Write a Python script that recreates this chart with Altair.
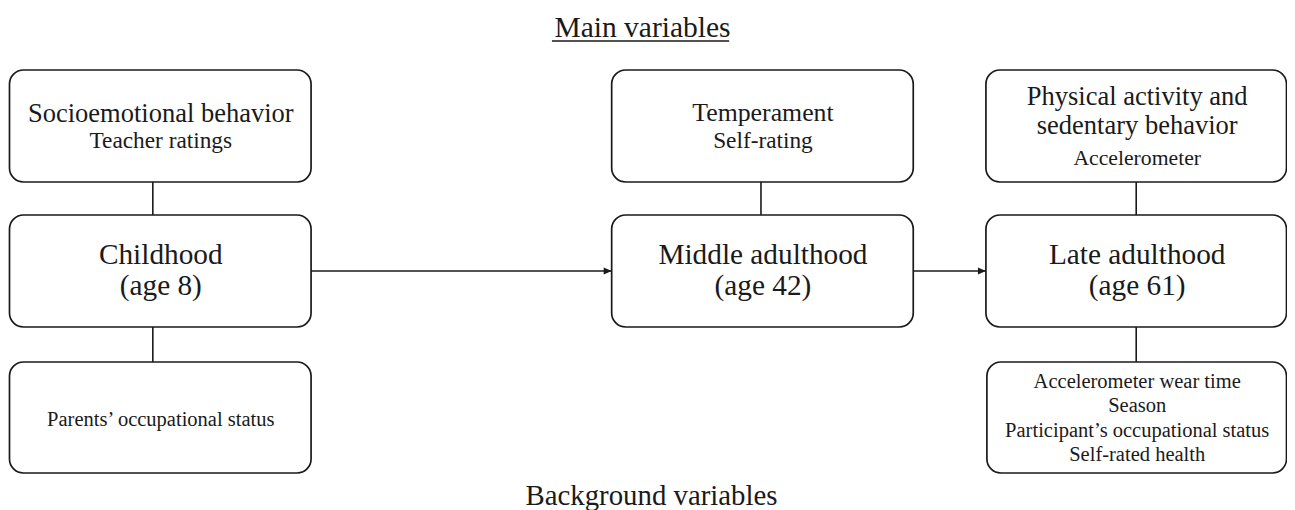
import altair as alt
import pandas as pd

# ---- diagram content ----
box_names = ["Socioemotional", "Childhood", "Parents", "Temperament", "Middle", "Physical", "Late", "LateBackground"]
box_x1 = [10, 10, 10, 615, 615, 991, 991, 992]
box_x2 = [313, 313, 313, 918, 918, 1293, 1293, 1293]
box_y1 = [70, 215, 362, 70, 215, 70, 215, 362]
box_y2 = [182, 327, 473, 182, 327, 182, 327, 473]

# vertical connectors
conn_x = [154, 154, 765, 1142, 1142]
conn_y1 = [182, 327, 182, 182, 327]
conn_y2 = [215, 362, 215, 215, 362]

# arrows between stages
arrow_x1 = [313, 918]
arrow_x2 = [615, 991]
arrow_y = [271, 271]

# section titles
title_text = ["Main variables"]
title_x = [646]
title_y = [37]
bottom_text = ["Background variables"]
bottom_x = [655]
bottom_y = [505]
underline_x1 = [555]
underline_x2 = [733]
underline_y = [41]

# stage labels (large)
stage_text = ["Childhood", "(age 8)", "Middle adulthood", "(age 42)", "Late adulthood", "(age 61)"]
stage_x = [162, 162, 767, 767, 1143, 1143]
stage_y = [264, 295, 264, 295, 264, 295]

# main variable headers
head_text = ["Socioemotional behavior", "Physical activity and", "sedentary behavior"]
head_x = [162, 1143, 1143]
head_y = [122, 105, 134]
head2_text = ["Temperament"]
head2_x = [767]
head2_y = [121]

# measurement labels
meas_text = ["Teacher ratings", "Self-rating"]
meas_x = [162, 767]
meas_y = [148, 148]
meas2_text = ["Accelerometer"]
meas2_x = [1143]
meas2_y = [165]

# background variable labels
bg_text = ["Parents’ occupational status", "Accelerometer wear time", "Season",
           "Participant’s occupational status", "Self-rated health"]
bg_x = [162, 1143, 1143, 1143, 1143]
bg_y = [426, 388, 412, 437, 461]

FONT = "Liberation Serif"
INK = "#1a1a1a"

xs = alt.Scale(domain=[8.5, 1293.5], nice=False, zero=False)
ys = alt.Scale(domain=[8, 510], nice=False, zero=False, reverse=True)

boxes = pd.DataFrame({"name": box_names, "x1": box_x1, "x2": box_x2, "y1": box_y1, "y2": box_y2})
conns = pd.DataFrame({"x": conn_x, "y1": conn_y1, "y2": conn_y2})
arrows = pd.DataFrame({"x1": arrow_x1, "x2": arrow_x2, "y": arrow_y})
underl = pd.DataFrame({"x1": underline_x1, "x2": underline_x2, "y": underline_y})


def text_layer(texts, xv, yv, size):
    df = pd.DataFrame({"t": texts, "x": xv, "y": yv})
    return alt.Chart(df).mark_text(
        font=FONT, fontSize=size, color=INK, align="center", baseline="alphabetic"
    ).encode(
        x=alt.X("x:Q", scale=xs, axis=None),
        y=alt.Y("y:Q", scale=ys, axis=None),
        text="t:N",
    )


rects = alt.Chart(boxes).mark_rect(
    cornerRadius=14, fill="white", stroke=INK, strokeWidth=1.7
).encode(
    x=alt.X("x1:Q", scale=xs, axis=None), x2="x2:Q",
    y=alt.Y("y1:Q", scale=ys, axis=None), y2="y2:Q",
)

vlines = alt.Chart(conns).mark_rule(color=INK, strokeWidth=1.6).encode(
    x=alt.X("x:Q", scale=xs, axis=None),
    y=alt.Y("y1:Q", scale=ys, axis=None), y2="y2:Q",
)

hlines = alt.Chart(arrows).mark_rule(color=INK, strokeWidth=1.6).encode(
    x=alt.X("x1:Q", scale=xs, axis=None), x2="x2:Q",
    y=alt.Y("y:Q", scale=ys, axis=None),
)

heads = alt.Chart(arrows).mark_point(
    shape="M0,0 L-1,-0.45 L-1,0.45 Z", filled=True, size=256, color=INK, opacity=1
).encode(
    x=alt.X("x2:Q", scale=xs, axis=None),
    y=alt.Y("y:Q", scale=ys, axis=None),
)

uline = alt.Chart(underl).mark_rule(color=INK, strokeWidth=1.4).encode(
    x=alt.X("x1:Q", scale=xs, axis=None), x2="x2:Q",
    y=alt.Y("y:Q", scale=ys, axis=None),
)

chart = alt.layer(
    rects, vlines, hlines, heads, uline,
    text_layer(title_text, title_x, title_y, 29.5),
    text_layer(bottom_text, bottom_x, bottom_y, 28.8),
    text_layer(stage_text, stage_x, stage_y, 29.3),
    text_layer(head_text, head_x, head_y, 26.5),
    text_layer(head2_text, head2_x, head2_y, 25.8),
    text_layer(meas_text, meas_x, meas_y, 23.3),
    text_layer(meas2_text, meas2_x, meas2_y, 21.7),
    text_layer(bg_text, bg_x, bg_y, 20.5),
).properties(
    width=1279, height=502, padding=0, autosize=alt.AutoSizeParams(type="none"),
    background="white",
).configure_view(stroke=None)

chart.save("out.html", embed_options={"renderer": "svg", "actions": False})
